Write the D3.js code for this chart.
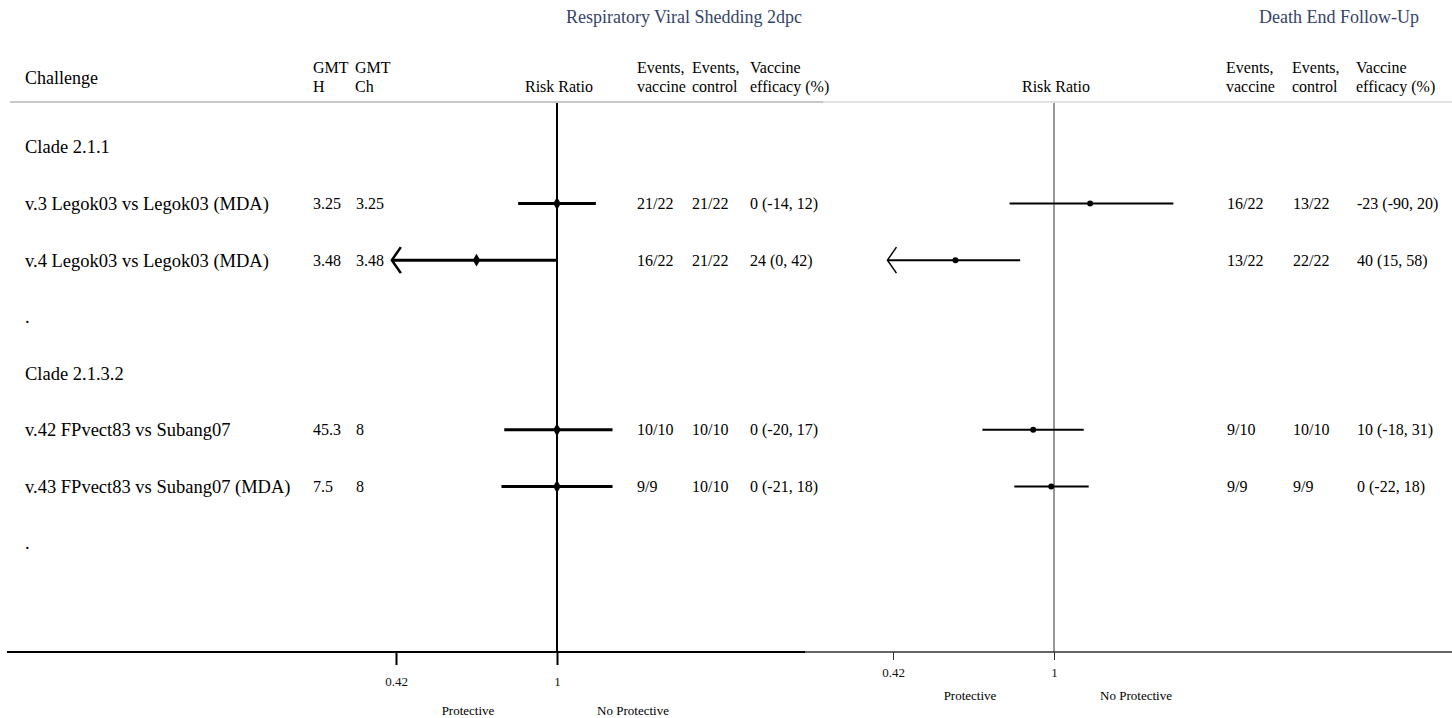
<!DOCTYPE html>
<html>
<head>
<meta charset="utf-8">
<script src="https://cdn.jsdelivr.net/npm/d3@7"></script>
<style>
  body { margin: 0; background: #fff; }
</style>
</head>
<body>
<svg id="chart" width="1452" height="718"></svg>
<script>
const ROW_LABELS = ['Clade 2.1.1', 'v.3 Legok03 vs Legok03 (MDA)', 'v.4 Legok03 vs Legok03 (MDA)', '.',
  'Clade 2.1.3.2', 'v.42 FPvect83 vs Subang07', 'v.43 FPvect83 vs Subang07 (MDA)', '.'];
const GMT_H = ['', '3.25', '3.48', '', '', '45.3', '7.5', ''];
const GMT_CH = ['', '3.25', '3.48', '', '', '8', '8', ''];

// Respiratory viral shedding 2dpc
const SHED_EVENTS_VAC = ['', '21/22', '16/22', '', '', '10/10', '9/9', ''];
const SHED_EVENTS_CTL = ['', '21/22', '21/22', '', '', '10/10', '10/10', ''];
const SHED_VE = ['', '0 (-14, 12)', '24 (0, 42)', '', '', '0 (-20, 17)', '0 (-21, 18)', ''];
const SHED_RR = [null, 1, 0.71, null, null, 1, 1, null];
const SHED_LO = [null, 0.86, 0.405, null, null, 0.81, 0.8, null];
const SHED_HI = [null, 1.14, 1.0, null, null, 1.2, 1.2, null];

// Death end follow-up
const DEATH_EVENTS_VAC = ['', '16/22', '13/22', '', '', '9/10', '9/9', ''];
const DEATH_EVENTS_CTL = ['', '13/22', '22/22', '', '', '10/10', '9/9', ''];
const DEATH_VE = ['', '-23 (-90, 20)', '40 (15, 58)', '', '', '10 (-18, 31)', '0 (-22, 18)', ''];
const DEATH_RR = [null, 1.13, 0.645, null, null, 0.925, 0.99, null];
const DEATH_LO = [null, 0.84, 0.4, null, null, 0.742, 0.857, null];
const DEATH_HI = [null, 1.43, 0.878, null, null, 1.107, 1.125, null];

const TICK_VALUES = [0.42, 1];
const AXIS_MIN = 0.42;

const FONT = '"Liberation Serif", "Times New Roman", serif';
const svg = d3.select('#chart').attr('font-family', FONT);
const AXIS_Y = 652;
const TOP_Y = 103;

const y = d3.scaleLinear().domain([0, ROW_LABELS.length - 1]).range([147, 543]);
const xShed = d3.scaleLinear().domain([0.42, 1]).range([396, 557]);
const xDeath = d3.scaleLinear().domain([0.42, 1]).range([893, 1054]);

// titles
svg.append('text').attr('x', 684).attr('y', 23).attr('text-anchor', 'middle')
    .style('font-size', '18px').attr('fill', '#34446a').text('Respiratory Viral Shedding 2dpc');
svg.append('text').attr('x', 1339).attr('y', 23).attr('text-anchor', 'middle')
    .style('font-size', '18px').attr('fill', '#34446a').text('Death End Follow-Up');

/**
 * Two-line column header.
 */
function header(x, lines) {
  const t = svg.append('text').attr('x', x).attr('y', 73).style('font-size', '16px');
  lines.forEach((l, i) => {
    t.append('tspan').attr('x', x).attr('dy', i === 0 ? 0 : 19).text(l);
  });
}

svg.append('text').attr('x', 25).attr('y', 84).style('font-size', '18px').text('Challenge');
header(313, ['GMT', 'H']);
header(355, ['GMT', 'Ch']);
svg.append('text').attr('x', 559).attr('y', 92).attr('text-anchor', 'middle')
    .style('font-size', '16px').text('Risk Ratio');
header(637, ['Events,', 'vaccine']);
header(692, ['Events,', 'control']);
header(750, ['Vaccine', 'efficacy (%)']);
svg.append('text').attr('x', 1056).attr('y', 92).attr('text-anchor', 'middle')
    .style('font-size', '16px').text('Risk Ratio');
header(1226, ['Events,', 'vaccine']);
header(1292, ['Events,', 'control']);
header(1356, ['Vaccine', 'efficacy (%)']);

// header rule
svg.append('line').attr('x1', 10).attr('x2', 823).attr('y1', 102).attr('y2', 102)
    .attr('stroke', '#c8c8c8').attr('stroke-width', 2);
svg.append('line').attr('x1', 823).attr('x2', 1452).attr('y1', 102).attr('y2', 102)
    .attr('stroke', '#d8d8d8').attr('stroke-width', 1.5);

// text columns
function column(values, x, size) {
  svg.append('g').selectAll('text').data(values).join('text')
      .attr('x', x).attr('y', (d, i) => y(i)).attr('dy', '0.35em')
      .style('font-size', size).text(d => d);
}
column(ROW_LABELS, 25, '18.5px');
column(GMT_H, 313, '16px');
column(GMT_CH, 356, '16px');
column(SHED_EVENTS_VAC, 637, '16px');
column(SHED_EVENTS_CTL, 692, '16px');
column(SHED_VE, 750, '16px');
column(DEATH_EVENTS_VAC, 1227, '16px');
column(DEATH_EVENTS_CTL, 1293, '16px');
column(DEATH_VE, 1357, '16px');

/**
 * One forest panel: reference line, CI lines, point markers, arrows.
 */
function panel(x, est, lo, hi, opts) {
  const g = svg.append('g');
  g.append('line').attr('x1', x(1)).attr('x2', x(1)).attr('y1', TOP_Y).attr('y2', AXIS_Y)
      .attr('stroke', opts.refColor).attr('stroke-width', opts.refWidth);
  const rows = est.map((e, i) => ({e, lo: lo[i], hi: hi[i], i})).filter(d => d.e !== null);
  g.selectAll('line.ci').data(rows).join('line').attr('class', 'ci')
      .attr('x1', d => x(d.lo)).attr('x2', d => x(d.hi))
      .attr('y1', d => y(d.i)).attr('y2', d => y(d.i))
      .attr('stroke', '#000').attr('stroke-width', opts.ciWidth);
  g.selectAll('path.arrow').data(rows.filter(d => d.lo < AXIS_MIN)).join('path')
      .attr('class', 'arrow')
      .attr('d', d => `M${x(d.lo) + 9},${y(d.i) - 13}L${x(d.lo)},${y(d.i)}L${x(d.lo) + 9},${y(d.i) + 13}`)
      .attr('fill', 'none').attr('stroke', '#000').attr('stroke-width', opts.arrowWidth);
  g.selectAll('path.pt').data(rows).join('path').attr('class', 'pt')
      .attr('transform', d => `translate(${x(d.e)},${y(d.i)})`)
      .attr('d', d3.symbol(opts.symbol, opts.symbolSize))
      .attr('fill', '#000');
}
panel(xShed, SHED_RR, SHED_LO, SHED_HI,
    {refColor: '#000', refWidth: 2, ciWidth: 3, arrowWidth: 2.5, symbol: d3.symbolDiamond, symbolSize: 48});
panel(xDeath, DEATH_RR, DEATH_LO, DEATH_HI,
    {refColor: '#333', refWidth: 1, ciWidth: 2, arrowWidth: 1.5, symbol: d3.symbolCircle, symbolSize: 28});

// axes
svg.append('line').attr('x1', 7).attr('x2', 805).attr('y1', AXIS_Y).attr('y2', AXIS_Y)
    .attr('stroke', '#000').attr('stroke-width', 2);
svg.append('line').attr('x1', 805).attr('x2', 1452).attr('y1', AXIS_Y).attr('y2', AXIS_Y)
    .attr('stroke', '#333').attr('stroke-width', 1.5);

const fmt = d => (d === 1 ? '1' : String(d));
const axShed = svg.append('g').attr('transform', `translate(0,${AXIS_Y})`)
    .call(d3.axisBottom(xShed).tickValues(TICK_VALUES).tickFormat(fmt).tickSize(13).tickPadding(12));
axShed.select('.domain').remove();
axShed.selectAll('line').attr('stroke', '#000').attr('stroke-width', 2);
axShed.attr('font-family', FONT).attr('font-size', 13);
axShed.selectAll('text').attr('fill', '#111');

const axDeath = svg.append('g').attr('transform', `translate(0,${AXIS_Y})`)
    .call(d3.axisBottom(xDeath).tickValues(TICK_VALUES).tickFormat(fmt).tickSize(8).tickPadding(8));
axDeath.select('.domain').remove();
axDeath.selectAll('line').attr('stroke', '#333').attr('stroke-width', 1);
axDeath.attr('font-family', FONT).attr('font-size', 13);
axDeath.selectAll('text').attr('fill', '#111');

function note(x, yy, txt) {
  svg.append('text').attr('x', x).attr('y', yy).attr('text-anchor', 'middle')
      .style('font-size', '13px').text(txt);
}
note(468, 715, 'Protective');
note(633, 715, 'No Protective');
note(970, 700, 'Protective');
note(1136, 700, 'No Protective');
</script>
</body>
</html>
